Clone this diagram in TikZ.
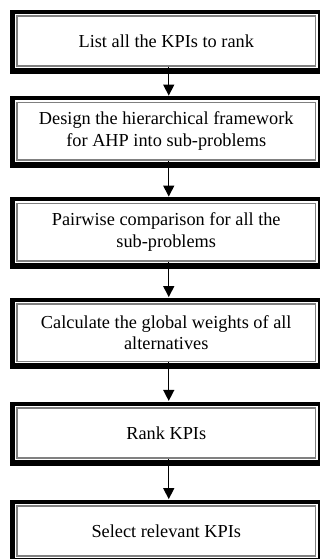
\documentclass[tikz,border=0pt]{standalone}
\usepackage{fontspec}
\setmainfont{Liberation Serif}
\usetikzlibrary{arrows.meta}
\definecolor{innerline}{RGB}{128,128,128}

\tikzset{
  stepbox/.style={draw=innerline, line width=1.8pt, fill=white,
    preaction={draw=black, line width=14pt, transform canvas={yshift=-1pt}},
    preaction={draw=white, line width=4pt},
    minimum width=298.5pt, align=center, inner sep=0pt,
    font=\fontsize{18.3}{21.5}\selectfont},
  onebox/.style={stepbox, minimum height=50pt},
  twobox/.style={stepbox, minimum height=57.5pt},
}

\begin{document}
\begin{tikzpicture}[x=1pt, y=-1pt, >=Triangle]

	\useasboundingbox (0,0) rectangle (320,559);
	\clip (0,0) rectangle (320,559);

	\node[onebox] (list) at (166.25,40.75) {List all the KPIs to rank};
	\node[twobox] (design) at (166.25,131.25) {Design the hierarchical framework\\for AHP into sub-problems};
	\node[twobox] (pairwise) at (166.25,232.2) {Pairwise comparison for all the\\sub-problems};
	\node[twobox] (weights) at (166.25,332.7) {Calculate the global weights of all\\alternatives};
	\node[onebox] (rank) at (166.25,432.8) {Rank KPIs};
	\node[onebox] (select) at (166.25,531) {Select relevant KPIs};

	\foreach \a/\b in {list/design, design/pairwise, pairwise/weights, weights/rank, rank/select}
		\draw[line width=1.4pt, -{Triangle[length=11pt,width=11pt]}, shorten >=6pt]
			([xshift=2.5pt]\a.south) -- ([xshift=2.5pt]\b.north);

\end{tikzpicture}
\end{document}
